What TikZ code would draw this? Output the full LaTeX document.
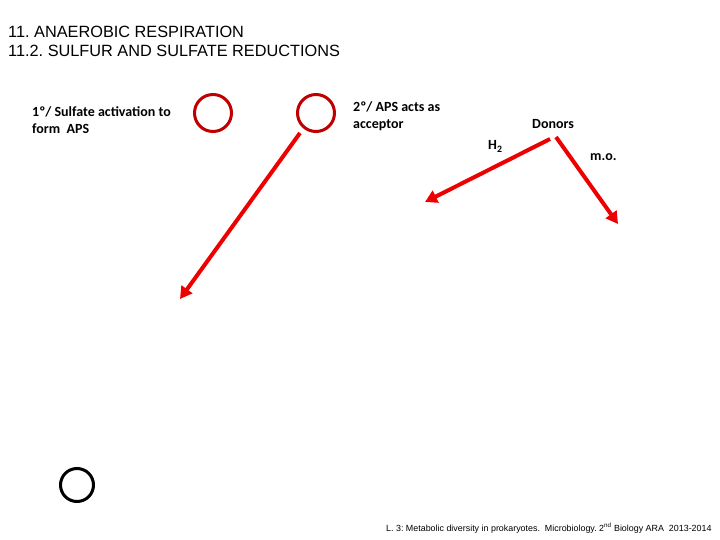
\documentclass[tikz,border=0pt]{standalone}
\usepackage{fontspec}
\setmainfont{Liberation Sans}
\newfontfamily\carlitofont{Carlito}
\usetikzlibrary{arrows.meta}
\definecolor{ringred}{HTML}{C00000}
\definecolor{arrred}{HTML}{EE0000}
\frenchspacing
\begin{document}
\begin{tikzpicture}[x=1pt,y=-1pt,
  title/.style={anchor=base west,inner sep=0pt,font=\fontsize{16.3}{19}\selectfont},
  lbl/.style={anchor=base west,inner sep=0pt,font=\carlitofont\bfseries\fontsize{14}{17}\selectfont,align=left},
  ring/.style={draw=ringred,line width=3pt,circle,minimum size=37pt,inner sep=0pt},
  bigarrow/.style={draw=arrred,line width=4pt,-{Triangle[length=12pt,width=13pt]}}]
\useasboundingbox (0,0) rectangle (720,540);
\node[title] (t1) at (8,38) {11. ANAEROBIC RESPIRATION};
\node[title] (t2) at (8,57) {11.2. SULFUR AND SULFATE REDUCTIONS};
\node[lbl] (s1a) at (32,117) {1º/ Sulfate activation to};
\node[lbl] (s1b) at (32,134) {form\ \ APS};
\node[ring] (c1) at (213,113) {};
\node[ring] (c2) at (316,113) {};
\node[lbl] (s2a) at (353,112) {2º/ APS acts as};
\node[lbl] (s2b) at (353,129) {acceptor};
\node[lbl] (don) at (532,129) {Donors};
\node[lbl] (h2) at (488,150) {H\textsubscript{2}};
\node[lbl] (mo) at (590,161) {m.o.};
\coordinate (a1s) at (300,133);
\coordinate (a1e) at (180,299);
\coordinate (d1) at (550,139);
\coordinate (d2) at (556,137);
\coordinate (h2e) at (425,202);
\coordinate (moe) at (618,224);
\draw[bigarrow] (a1s) -- (a1e);
\draw[bigarrow] (d1) -- (h2e);
\draw[bigarrow] (d2) -- (moe);
\node[draw=black,line width=3pt,circle,minimum size=33pt,inner sep=0pt] (c3) at (77,485) {};
\node[anchor=base west,inner sep=0pt,font=\fontsize{8.9}{10}\selectfont] (foot) at (386,531) {L. 3: Metabolic diversity in prokaryotes.\ \ Microbiology. 2\textsuperscript{nd} Biology ARA\ \ 2013-2014};
\end{tikzpicture}
\end{document}
